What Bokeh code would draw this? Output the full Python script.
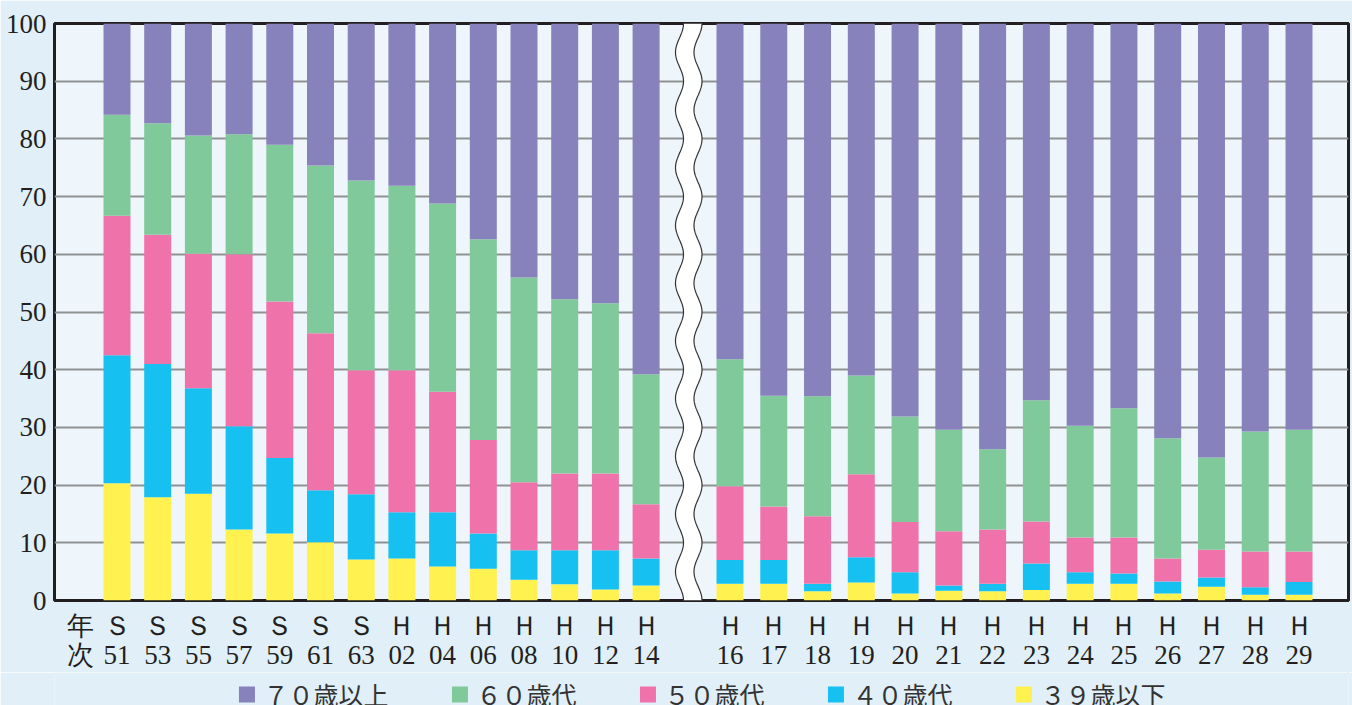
import numpy as np
from bokeh.plotting import figure
from bokeh.layouts import column
from bokeh.models import (Range1d, FixedTicker, Legend, LegendItem, ColumnDataSource,
                          LinearAxis)
from bokeh.embed import file_html
from bokeh.resources import INLINE

# ---- data ----
era = ["Ｓ"] * 7 + ["Ｈ"] * 21
year_no = ["51", "53", "55", "57", "59", "61", "63", "02", "04", "06", "08", "10", "12", "14",
           "16", "17", "18", "19", "20", "21", "22", "23", "24", "25", "26", "27", "28", "29"]
under39 = [20.3, 17.9, 18.5, 12.3, 11.6, 10.1, 7.1, 7.3, 5.9, 5.5, 3.6, 2.8, 1.9, 2.6,
           2.9, 2.9, 1.6, 3.1, 1.2, 1.7, 1.6, 1.8, 2.9, 2.9, 1.2, 2.4, 1.0, 1.0]
age40s = [22.2, 23.1, 18.3, 17.9, 13.1, 9.0, 11.3, 8.0, 9.4, 6.1, 5.1, 5.9, 6.8, 4.7,
          4.1, 4.1, 1.3, 4.4, 3.7, 0.9, 1.3, 4.6, 2.0, 1.8, 2.1, 1.6, 1.3, 2.2]
age50s = [24.2, 22.4, 23.3, 29.8, 27.1, 27.2, 21.5, 24.6, 20.9, 16.2, 11.8, 13.3, 13.3, 9.4,
          12.8, 9.3, 11.7, 14.4, 8.7, 9.4, 9.4, 7.3, 6.0, 6.2, 4.0, 4.8, 6.2, 5.3]
age60s = [17.5, 19.3, 20.5, 20.8, 27.2, 29.1, 32.9, 32.0, 32.6, 34.8, 35.5, 30.2, 29.5, 22.5,
          22.0, 19.2, 20.8, 17.1, 18.3, 17.6, 13.9, 21.0, 19.4, 22.4, 20.8, 16.0, 20.8, 21.1]
over70 = [15.8, 17.3, 19.4, 19.2, 21.0, 24.6, 27.2, 28.1, 31.2, 37.4, 44.0, 47.8, 48.5, 60.8,
          58.2, 64.5, 64.6, 61.0, 68.1, 70.4, 73.8, 65.3, 69.7, 66.7, 71.9, 75.2, 70.7, 70.4]
series_names = ["３９歳以下", "４０歳代", "５０歳代", "６０歳代", "７０歳以上"]
series_keys = ["u39", "a40", "a50", "a60", "o70"]
colors = ["#fff250", "#16c1f1", "#f072aa", "#80c99b", "#8782bc"]
axis_title = ["年", "次"]
n_left = 14

# ---- layout (positions in frame pixels) ----
left_start, left_step = 62.5, 40.7
right_start, right_step = 675.5, 43.77
xs = [round(left_start + i * left_step, 2) if i < n_left
      else round(right_start + (i - n_left) * right_step, 2) for i in range(len(year_no))]
title_x = 26.0

src = ColumnDataSource(dict(x=xs, u39=under39, a40=age40s, a50=age50s, a60=age60s, o70=over70))

BG = "#e0eff8"
FW, FH = 1294, 577
p = figure(frame_width=FW, frame_height=FH, output_backend="svg", toolbar_location=None,
           x_range=Range1d(0, FW), y_range=Range1d(0, 100),
           min_border_left=54, min_border_top=23, min_border_right=4, min_border_bottom=70)
p.border_fill_color = BG
p.background_fill_color = "#eef6fb"
p.outline_line_color = "#231f20"
p.outline_line_width = 3

rs = p.vbar_stack(series_keys, x="x", width=27, source=src, color=colors, line_color=None)

# wavy break band
wy = np.linspace(0, 100, 601)
wl = 625 + 4 * np.cos(2 * np.pi * wy / 10)
wr = 643.5 + 4 * np.cos(2 * np.pi * wy / 10)
p.patch(np.concatenate([wl, wr[::-1]]), np.concatenate([wy, wy[::-1]]),
        fill_color="white", line_color=None)
p.line(wl, wy, line_color="#333333", line_width=1.2)
p.line(wr, wy, line_color="#333333", line_width=1.2)

# y axis
ticks_y = list(range(0, 101, 10))
p.yaxis.ticker = FixedTicker(ticks=ticks_y)
p.ygrid.ticker = FixedTicker(ticks=ticks_y[1:-1])
p.ygrid.grid_line_color = "#8f9193"
p.ygrid.grid_line_width = 2
p.xgrid.visible = False
p.yaxis.major_label_text_font_size = "27px"
p.yaxis.major_label_standoff = 8
p.yaxis.major_label_text_font = "Liberation Sans Narrow"

# x axes: era letter row and year number row
xticks = FixedTicker(ticks=[title_x] + xs)
ax1 = p.xaxis[0]
ax1.ticker = xticks
ax1.major_label_overrides = {title_x: axis_title[0], **{x: e for x, e in zip(xs, era)}}
ax1.major_label_text_font = "Liberation Sans"
ax1.major_label_text_font_size = "27px"
ax1.major_label_standoff = 10

ax2 = LinearAxis(ticker=xticks)
ax2.major_label_overrides = {title_x: axis_title[1], **{x: n for x, n in zip(xs, year_no)}}
ax2.major_label_text_font = "Liberation Sans Narrow"
ax2.major_label_text_font_size = "27px"
ax2.major_label_standoff = -4
p.add_layout(ax2, "below")

for ax in (ax1, ax2, p.yaxis[0]):
    ax.axis_line_color = None
    ax.major_tick_line_color = None
    ax.minor_tick_line_color = None
    ax.major_tick_out = 0
    ax.major_tick_in = 0
    ax.minor_tick_out = 0
    ax.minor_tick_in = 0
    ax.major_label_text_color = "#231f20"

# legend strip under the chart
q = figure(width=1352, height=44, output_backend="svg", toolbar_location=None,
           x_range=Range1d(0, 1), y_range=Range1d(0, 1),
           x_axis_location=None, y_axis_location=None,
           min_border_left=44, min_border_right=0, min_border_top=0, min_border_bottom=0)
q.border_fill_color = BG
q.background_fill_color = BG
q.outline_line_color = None
q.xgrid.visible = False
q.ygrid.visible = False
keys = []
for c in colors:
    # legend key renderers: one point placed outside the visible range
    keys.append(q.vbar(x=[5], top=[6], bottom=[5], width=1, color=c, line_color=None))
items = [LegendItem(label=series_names[k], renderers=[keys[k]]) for k in range(4, -1, -1)]
legend = Legend(items=items, orientation="horizontal", location="center",
                glyph_width=20, glyph_height=20, label_standoff=7, spacing=61,
                label_text_font="Noto Sans CJK JP", label_text_font_size="25px",
                label_text_color="#333333", border_line_color=None,
                background_fill_alpha=0, padding=0, margin=0)
q.add_layout(legend, "center")

layout = column(p, q, spacing=0)
open("out.html", "w").write(file_html(layout, INLINE))
